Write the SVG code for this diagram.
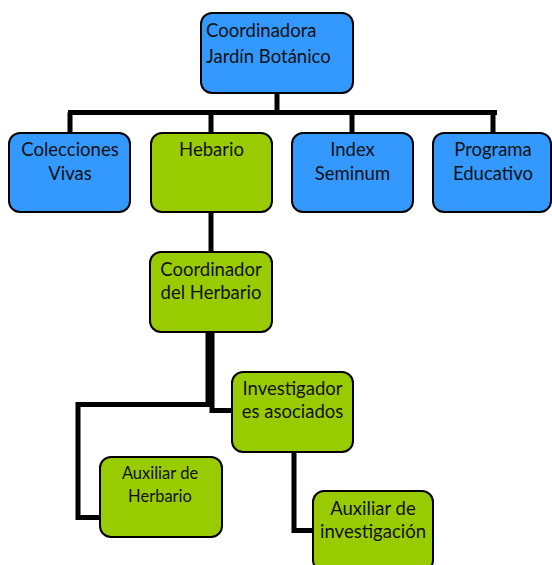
<svg xmlns="http://www.w3.org/2000/svg" width="552" height="565" viewBox="0 0 552 565">
<style>
.blue{fill:#3399FF;stroke:#000;stroke-width:2}
.green{fill:#99CC00;stroke:#000;stroke-width:2}
text{font-family:Lato,"Open Sans","Liberation Sans",sans-serif;font-size:18.5px;fill:#111}
.c{text-anchor:middle}
.s{font-size:16.5px}
.conn{fill:none;stroke:#000;stroke-width:5}
</style>
<rect width="552" height="565" fill="#fff"/>
<g id="connectors">
<path class="conn" d="M277 93 V112.5 M68 112.5 H497 M70 112.5 V133 M211 112.5 V133 M352 112.5 V133 M493 112.5 V133"/>
<path class="conn" d="M211 212 V252"/>
<path class="conn" d="M208 332 V404.5 H78 V517.5 H100"/>
<path class="conn" d="M212 332 V410.5 H232"/>
<path class="conn" d="M294 452 V530.5 H313"/>
</g>
<g id="n-coord"><rect class="blue" x="201" y="13" width="152" height="80" rx="11"/><text x="206" y="37">Coordinadora</text><text x="206" y="63">Jardín Botánico</text></g>
<g id="n-colecciones"><rect class="blue" x="9" y="133" width="121" height="79" rx="11"/><text class="c" x="70" y="156">Colecciones</text><text class="c" x="70" y="180">Vivas</text></g>
<g id="n-hebario"><rect class="green" x="151" y="133" width="121" height="79" rx="11"/><text class="c" x="211.5" y="156">Hebario</text></g>
<g id="n-index"><rect class="blue" x="292" y="133" width="121" height="79" rx="11"/><text class="c" x="352.5" y="156">Index</text><text class="c" x="352.5" y="180">Seminum</text></g>
<g id="n-programa"><rect class="blue" x="433" y="133" width="118" height="79" rx="11"/><text class="c" x="493" y="156">Programa</text><text class="c" x="493" y="180">Educativo</text></g>
<g id="n-coordherb"><rect class="green" x="150" y="252" width="122" height="80" rx="11"/><text class="c" x="211" y="276">Coordinador</text><text class="c" x="211" y="299">del Herbario</text></g>
<g id="n-invest"><rect class="green" x="232" y="372" width="121" height="80" rx="11"/><text class="c" x="292.5" y="395">Investigador</text><text class="c" x="292.5" y="418">es asociados</text></g>
<g id="n-auxherb"><rect class="green" x="100" y="457" width="122" height="80" rx="11"/><text class="c s" x="160" y="479">Auxiliar de</text><text class="c s" x="160" y="502">Herbario</text></g>
<g id="n-auxinv"><rect class="green" x="313" y="491" width="120" height="80" rx="11"/><text class="c" x="373" y="515">Auxiliar de</text><text class="c" x="373" y="538">investigación</text></g>
</svg>
